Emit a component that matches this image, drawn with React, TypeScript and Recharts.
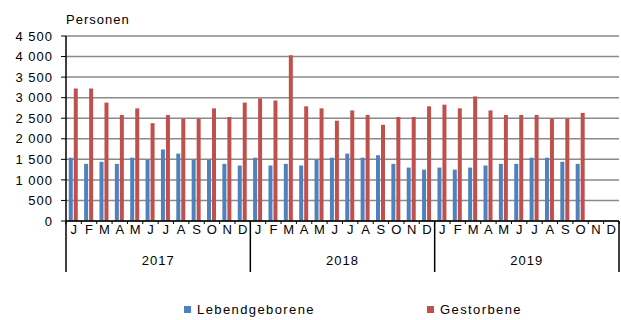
import React from 'react'
import { BarChart, Bar, XAxis, YAxis, CartesianGrid, Legend } from 'recharts'

const months = ['J', 'F', 'M', 'A', 'M', 'J', 'J', 'A', 'S', 'O', 'N', 'D']
const years = ['2017', '2018', '2019']
const yTicks = [0, 500, 1000, 1500, 2000, 2500, 3000, 3500, 4000, 4500]

// Lebendgeborene per month
const births2017 = [1540, 1390, 1440, 1390, 1540, 1490, 1740, 1640, 1490, 1490, 1390, 1350]
const births2018 = [1540, 1350, 1390, 1350, 1490, 1540, 1640, 1540, 1600, 1390, 1300, 1250]
const births2019 = [1300, 1250, 1300, 1350, 1390, 1390, 1540, 1540, 1440, 1390, null, null]

// Gestorbene per month
const deaths2017 = [3220, 3220, 2880, 2580, 2740, 2380, 2580, 2490, 2490, 2740, 2530, 2880]
const deaths2018 = [2980, 2930, 4030, 2790, 2740, 2440, 2690, 2580, 2340, 2530, 2530, 2790]
const deaths2019 = [2830, 2740, 3030, 2690, 2580, 2580, 2580, 2490, 2490, 2630, null, null]

const births = [...births2017, ...births2018, ...births2019]
const deaths = [...deaths2017, ...deaths2018, ...deaths2019]

const data = births.map((b, i) => ({
  i,
  m: months[i % 12],
  year: years[Math.floor(i / 12)],
  births: b,
  deaths: deaths[i],
}))

const W = 621
const H = 320
const MARGIN = { top: 36, right: 2, left: 0, bottom: 1 }
const Y_W = 66
const BAND = (W - MARGIN.left - MARGIN.right - Y_W) / data.length

const FONT = '"Liberation Sans", Arial, sans-serif'
const BLUE = '#4f81bd'
const RED = '#c0504d'

const series = [
  { key: 'births', name: 'Lebendgeborene', color: BLUE },
  { key: 'deaths', name: 'Gestorbene', color: RED },
]

const fmt = (v: number) => String(v).replace(/\B(?=(\d{3})+(?!\d))/g, ' ')

function MonthTick(props: any) {
  const { x, y, payload } = props
  const i = payload.value
  const last = i === data.length - 1
  return (
    <g>
      <line x1={x - BAND / 2} x2={x - BAND / 2} y1={y} y2={y + 3} stroke="#000" />
      {last && <line x1={x + BAND / 2} x2={x + BAND / 2} y1={y} y2={y + 3} stroke="#000" />}
      <text x={x} y={y + 13} textAnchor="middle" fontSize={13} fill="#000">
        {months[i % 12]}
      </text>
    </g>
  )
}

function YearTick(props: any) {
  const { x, y, payload } = props
  const i = payload.value
  return (
    <g>
      {i % 12 === 0 && (
        <line x1={x - BAND / 2} x2={x - BAND / 2} y1={y - 20} y2={y + 31} stroke="#000" strokeWidth={1.5} />
      )}
      {i === data.length - 1 && (
        <line x1={x + BAND / 2} x2={x + BAND / 2} y1={y - 20} y2={y + 31} stroke="#000" strokeWidth={1.5} />
      )}
      {i % 12 === 6 && (
        <text x={x - BAND / 2} y={y + 24} textAnchor="middle" fontSize={13} fill="#000" letterSpacing={1}>
          {years[Math.floor(i / 12)]}
        </text>
      )}
    </g>
  )
}

function PersonenLabel(props: any) {
  const { viewBox } = props
  return (
    <text x={viewBox.x + viewBox.width} y={viewBox.y - 12} fontSize={13} fill="#000" letterSpacing={1}>
      Personen
    </text>
  )
}

function LegendContent() {
  const widths = [243, 120]
  return (
    <div style={{ display: 'flex', paddingLeft: 184, height: 20, alignItems: 'center', fontFamily: FONT }}>
      {series.map((s, k) => (
        <div key={s.key} style={{ display: 'flex', alignItems: 'center', width: widths[k] }}>
          <span style={{ width: 7, height: 7, background: s.color, marginRight: 6, display: 'inline-block' }} />
          <span style={{ fontSize: 13, letterSpacing: 1.4, color: '#000' }}>{s.name}</span>
        </div>
      ))}
    </div>
  )
}

export default function App() {
  return (
    <div style={{ position: 'absolute', left: 0, top: 0, background: '#fff' }}>
      <BarChart
        width={W}
        height={H}
        data={data}
        margin={MARGIN}
        barCategoryGap="18%"
        barGap={1}
        style={{ fontFamily: FONT }}
      >
        <CartesianGrid vertical={false} stroke="#8a8a8a" strokeWidth={1.5} />
        <XAxis
          dataKey="i"
          interval={0}
          height={20}
          tickSize={0}
          tickMargin={0}
          tickLine={false}
          axisLine={{ stroke: '#000', strokeWidth: 1.5 }}
          tick={<MonthTick />}
        />
        <XAxis
          xAxisId="year"
          dataKey="i"
          interval={0}
          height={58}
          tickSize={0}
          tickMargin={0}
          tickLine={false}
          axisLine={false}
          tick={<YearTick />}
        />
        <YAxis
          width={Y_W}
          domain={[0, 4500]}
          ticks={yTicks}
          interval={0}
          tickFormatter={fmt}
          tickSize={5}
          tickMargin={8}
          tick={{ fontSize: 13, fill: '#000', letterSpacing: 1 }}
          tickLine={{ stroke: '#000' }}
          axisLine={{ stroke: '#000', strokeWidth: 1.5 }}
          label={PersonenLabel}
        />
        <Legend
          verticalAlign="bottom"
          content={<LegendContent />}
          wrapperStyle={{ left: 0, width: W }}
        />
        {series.map((s) => (
          <Bar key={s.key} dataKey={s.key} name={s.name} fill={s.color} isAnimationActive={false} />
        ))}
      </BarChart>
    </div>
  )
}
